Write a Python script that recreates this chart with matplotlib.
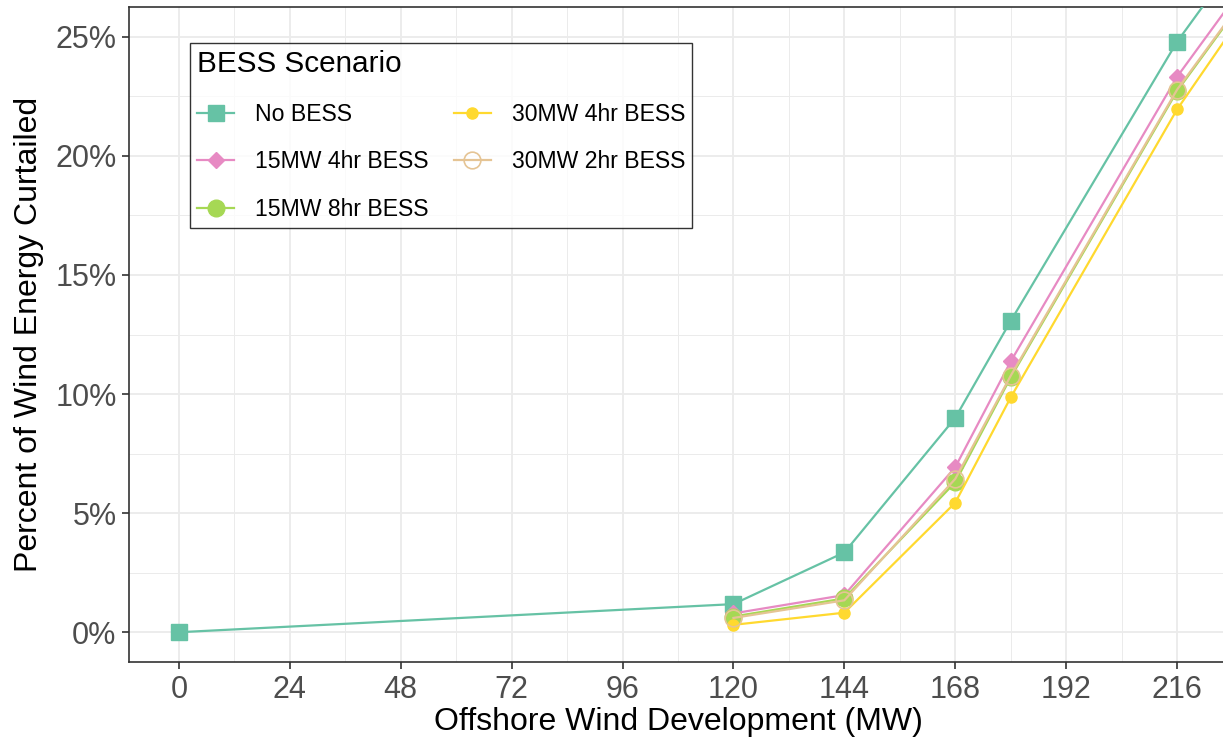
import numpy as np
import matplotlib
matplotlib.use("Agg")
import matplotlib.pyplot as plt
from matplotlib.ticker import FixedLocator, FuncFormatter

plt.rcParams['font.family'] = ['Liberation Sans', 'DejaVu Sans']

# offshore wind development (MW); last point lies past the visible range
mw_all = [0, 120, 144, 168, 180, 216, 240]
mw_bess = [120, 144, 168, 180, 216, 240]

# percent of wind energy curtailed
no_bess = [0.0, 1.18, 3.35, 9.0, 13.07, 24.79, 31.2]
mw15_4hr = [0.79, 1.56, 6.93, 11.37, 23.32, 29.7]
mw15_8hr = [0.66, 1.42, 6.30, 10.70, 22.72, 29.1]
mw30_4hr = [0.31, 0.82, 5.44, 9.86, 21.95, 28.7]
mw30_2hr = [0.60, 1.34, 6.44, 10.77, 22.78, 29.15]

x_ticks = [0, 24, 48, 72, 96, 120, 144, 168, 192, 216]
y_ticks = [0, 5, 10, 15, 20, 25]

fig = plt.figure(figsize=(12.23, 7.48), dpi=100)
ax = fig.add_axes([129 / 1223, 86 / 748, 1098 / 1223, 655 / 748])

lw = 1.6
ax.plot(mw_all, no_bess, color='#66C2A5', lw=lw, marker='s', ms=11,
        label='No BESS', zorder=3)
ax.plot(mw_bess, mw15_4hr, color='#E78AC3', lw=lw, marker='D', ms=8,
        label='15MW 4hr BESS', zorder=4)
ax.plot(mw_bess, mw15_8hr, color='#A6D854', lw=lw, marker='o', ms=12,
        label='15MW 8hr BESS', zorder=5)
ax.plot(mw_bess, mw30_4hr, color='#FFD92F', lw=lw, marker='o', ms=8,
        label='30MW 4hr BESS', zorder=6)
ax.plot(mw_bess, mw30_2hr, color='#E5C494', lw=lw, marker='o', ms=12,
        mfc='none', mew=1.2, label='30MW 2hr BESS', zorder=7)

ax.set_xlim(-10.8, 226.8)
ax.set_ylim(-1.25, 26.25)

ax.xaxis.set_major_locator(FixedLocator(x_ticks))
ax.xaxis.set_minor_locator(FixedLocator([t + 12 for t in x_ticks]))
ax.yaxis.set_major_locator(FixedLocator(y_ticks))
ax.yaxis.set_minor_locator(FixedLocator([t + 2.5 for t in y_ticks]))
ax.yaxis.set_major_formatter(FuncFormatter(lambda v, p: f"{v:.0f}%"))

ax.grid(which='major', color='#EBEBEB', lw=1.3, zorder=0)
ax.grid(which='minor', color='#EBEBEB', lw=0.7, zorder=0)
ax.set_axisbelow(True)

ax.tick_params(which='major', length=5, width=1.2, color='#333333',
               labelcolor='#4D4D4D', labelsize=22, pad=4)
ax.tick_params(which='minor', length=0)
for s in ax.spines.values():
    s.set_color('#333333')
    s.set_linewidth(1.2)

ax.set_xlabel('Offshore Wind Development (MW)', fontsize=23, labelpad=2)
ax.set_ylabel('Percent of Wind Energy Curtailed', fontsize=23, labelpad=8)

leg = ax.legend(title='BESS Scenario', ncol=2, loc='upper left',
                bbox_to_anchor=(190 / 1223, 1 - 43 / 748),
                bbox_transform=fig.transFigure,
                fontsize=16.6, title_fontsize=21.4, alignment='left',
                frameon=True, fancybox=False, edgecolor='black',
                handlelength=1.6, handletextpad=0.9, columnspacing=1.1,
                labelspacing=1.06, borderpad=0.32, borderaxespad=0)
leg.get_frame().set_linewidth(1.0)

fig.savefig('out.png', dpi=100)
